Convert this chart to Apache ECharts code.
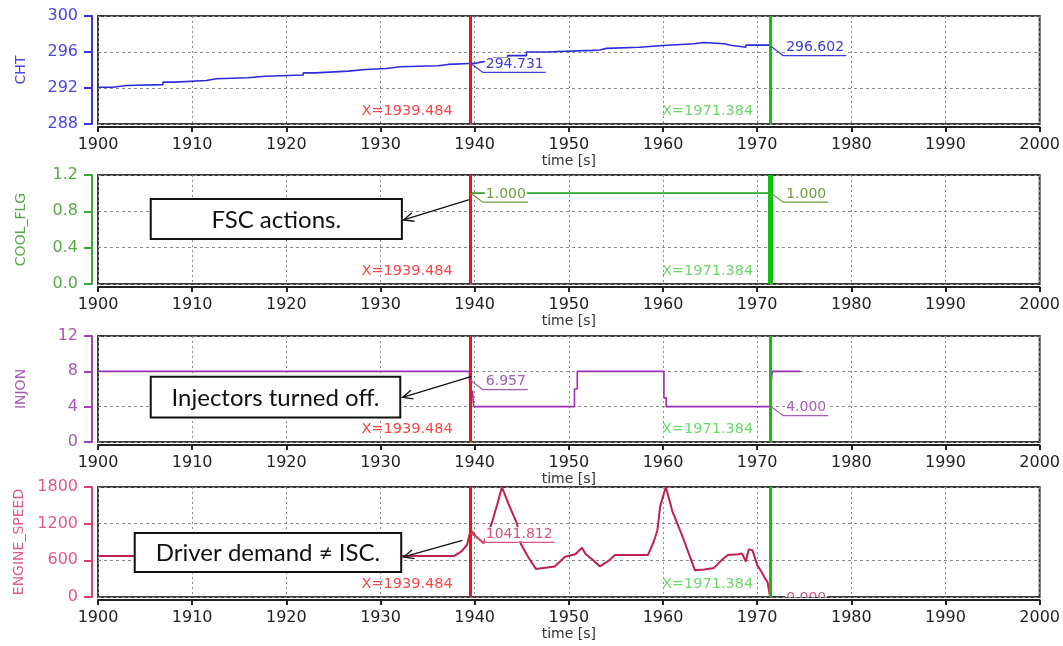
<!DOCTYPE html>
<html><head><meta charset="utf-8">
<script src="https://cdn.jsdelivr.net/npm/echarts@6/dist/echarts.min.js"></script>
<style>html,body{margin:0;padding:0;background:#fff}#c{width:1063px;height:646px}</style>
</head><body><div id="c"></div>
<script>
// ---------------- data ----------------
const chtTime  = [1900,1901.6,1903,1906.9,1908.2,1911.5,1912.6,1915.9,1917.8,1921.8,1923.1,1926.6,1928.4,1930.6,1932.1,1936.1,1937.2,1939.484,1939.9,1940.8,1942,1943.5,1945.5,1947.5,1952.5,1953.3,1954,1957.5,1960,1963.3,1964.3,1966.5,1967.2,1968.8,1971.384];
const chtValue = [292.08,292.27,292.38,292.65,292.84,293.03,293.14,293.3,293.45,293.68,293.87,294.06,294.17,294.36,294.48,294.62,294.73,294.731,294.9,295.1,295.35,295.6,296.0,296.18,296.22,296.4,296.53,296.72,296.91,297.05,296.91,296.75,296.53,296.76,296.602];
const coolTime  = [1939.484,1971.384];
const coolValue = [1,1];
const injTime  = [1900,1939.45,1939.55,1939.62,1939.7,1939.78,1939.85,1939.92,1950.6,1950.9,1960.1,1960.35,1971.45,1971.6,1974.6];
const injValue = [8,6.957,5.6,6.3,5.0,5.8,4.4,4,6,8,5,4,6.2,8,8];
const spdTime  = [1900,1937.8,1938.6,1939.2,1939.484,1939.6,1940.2,1940.95,1941.8,1942.4,1942.9,1943.6,1944.5,1944.9,1945.7,1946.5,1947.5,1948.5,1949.6,1950.7,1951.4,1951.8,1952.6,1953.3,1954.2,1954.9,1958.4,1959.0,1959.4,1959.7,1960.3,1961.0,1962.1,1963.4,1964.4,1965.4,1966.2,1966.9,1968.0,1968.4,1968.8,1969.1,1969.5,1970.0,1970.5,1970.9,1971.1,1971.3,1971.384,1971.5];
const spdValue = [669,669,748,855,1041.812,1090,980,881,1200,1519,1800,1519,1200,870,650,460,480,500,660,700,807,700,600,500,590,686,686,900,1084,1483,1800,1403,978,436,450,473,600,686,700,712,580,777,767,526,400,287,245,230,0,0];

const channelNames = ['CHT','COOL_FLG','INJON','ENGINE_SPEED'];
const yMin  = [288, 0, 0, 0];
const yMax  = [300, 1.2, 12, 1800];
const yStep = [4, 0.4, 4, 600];
const yDecimals = [0, 1, 0, 0];
const timeMin = 1900, timeMax = 2000, timeStep = 10;
const cursorTimes = [1939.484, 1971.384];
const cursorTexts = ['X=1939.484', 'X=1971.384'];
const readoutValues = [[294.731, 296.602], [1.0, 1.0], [6.957, 4.0], [1041.812, 0.0]];
const readoutTexts  = [['294.731','296.602'], ['1.000','1.000'], ['6.957','4.000'], ['1041.812','0.000']];
const noteTexts = ['FSC actions.', 'Injectors turned off.', 'Driver demand \u2260 ISC.'];

// ---------------- layout / style ----------------
const noteLayout = [
  {panel:1, box:[1905.6, 0.935, 1932.27, 0.495], from:[1939.43, 0.93], to:[1932.45, 0.705]},
  {panel:2, box:[1905.6, 7.39, 1932.1, 2.78],   from:[1939.6, 7.39],  to:[1932.35, 5.05]},
  {panel:3, box:[1903.9, 1047, 1932.2, 409],    from:[1938.7, 925],   to:[1932.45, 655]}
];
const gridPos = [{top:16,height:108},{top:175,height:109},{top:336,height:106},{top:487,height:110}];
const lineCol  = ['#2b2bd9','#2fa52f','#9c2db5','#c0204e'];
const lineW    = [1.6, 1.6, 1.6, 2];
const axisCol  = ['#3535e0','#3aa83a','#a042b5','#d8406a'];
const labelCol = ['#4646e6','#58a84a','#a35ab5','#e25a82'];
const readCol  = ['#3d3dd6','#6c9e3c','#a65cb8','#d2577a'];
const cursorCol = ['#f01414','#12c012'];
const cursorTextCol = ['#ff4545','#6ad86a'];
const stepMode = ['end', false, 'end', false];
const FONT = '"DejaVu Sans", Verdana, sans-serif';

const seriesData = [
  chtTime.map((t,i)=>[t, chtValue[i]]),
  coolTime.map((t,i)=>[t, coolValue[i]]),
  injTime.map((t,i)=>[t, injValue[i]]),
  spdTime.map((t,i)=>[t, spdValue[i]])
];

const mctx = document.createElement('canvas').getContext('2d');
function measure(text, font){ mctx.font = font; return mctx.measureText(text).width; }

function overlay(pi){
  const items = [];
  cursorTimes.forEach((t,k)=>items.push({kind:'readout', t, v:readoutValues[pi][k], text:readoutTexts[pi][k]}));
  cursorTimes.forEach((t,k)=>items.push({kind:'cursor', t, v:yMin[pi], text:cursorTexts[k], color:cursorTextCol[k]}));
  noteLayout.forEach((n,k)=>{ if(n.panel===pi) items.push({kind:'note', t:n.box[0], v:n.box[1], n, text:noteTexts[k]}); });
  return {
    type:'custom', xAxisIndex:pi, yAxisIndex:pi, z:10, clip:true, silent:true, animation:false,
    data: items.map(it=>[it.t, it.v]),
    renderItem(params, api){
      const it = items[params.dataIndex];
      const p = api.coord([api.value(0), api.value(1)]);
      if (it.kind==='readout'){
        const f = '14px ' + FONT;
        const ux = p[0]+13, uy = p[1]+9;
        const w = measure(it.text, f) + 5;
        return {type:'group', children:[
          {type:'text', style:{text:it.text, x:ux+2, y:uy-1, fill:readCol[pi], font:f, align:'left', verticalAlign:'bottom', backgroundColor:'#fff', padding:[0,1,0,1]}},
          {type:'polyline', shape:{points:[[p[0]+1,p[1]],[ux,uy],[ux+w,uy]]}, style:{stroke:readCol[pi], lineWidth:1.3, fill:null}}
        ]};
      }
      if (it.kind==='cursor'){
        return {type:'text', style:{text:it.text, x:p[0]-17, y:p[1]-13, fill:it.color, font:'14.5px '+FONT, align:'right', verticalAlign:'middle'}};
      }
      const n = it.n;
      const a = api.coord([n.box[0], n.box[1]]), c = api.coord([n.box[2], n.box[3]]);
      const fr = api.coord(n.from), to = api.coord(n.to);
      const ang = Math.atan2(fr[1]-to[1], fr[0]-to[0]);
      const h = 11, sp = 0.42;
      return {type:'group', children:[
        {type:'rect', shape:{x:a[0], y:a[1], width:c[0]-a[0], height:c[1]-a[1]}, style:{fill:'#fff', stroke:'#111', lineWidth:2}},
        {type:'text', style:{text:it.text, x:(a[0]+c[0])/2, y:(a[1]+c[1])/2+1, fill:'#111', font:'24px Lato, "Open Sans", sans-serif', align:'center', verticalAlign:'middle'}},
        {type:'polyline', shape:{points:[fr, to]}, style:{stroke:'#111', lineWidth:1.3, fill:null}},
        {type:'polyline', shape:{points:[[to[0]+h*Math.cos(ang+sp), to[1]+h*Math.sin(ang+sp)], to, [to[0]+h*Math.cos(ang-sp), to[1]+h*Math.sin(ang-sp)]]}, style:{stroke:'#111', lineWidth:1.3, fill:null}}
      ]};
    }
  };
}

const option = {
  animation:false,
  backgroundColor:'#fff',
  grid: gridPos.map(g=>({left:98, right:23, top:g.top, height:g.height, show:true, borderColor:'#3a3a3a', borderWidth:2, backgroundColor:'transparent'})),
  xAxis: gridPos.map((g,i)=>({
    type:'value', gridIndex:i, min:timeMin, max:timeMax, interval:timeStep, offset:3,
    name:'time [s]', nameLocation:'middle', nameGap:27,
    nameTextStyle:{color:'#333', fontSize:14, fontFamily:FONT},
    axisLine:{show:true, onZero:false, lineStyle:{color:'#222', width:2}},
    axisTick:{show:true, length:5, lineStyle:{color:'#222', width:2}},
    axisLabel:{color:'#222', fontSize:16, fontFamily:FONT, margin:10, formatter:v=>String(v)},
    splitLine:{show:true, lineStyle:{color:'#8a8a8a', type:[2,3], width:1}}
  })),
  yAxis: gridPos.map((g,i)=>({
    type:'value', gridIndex:i, min:yMin[i], max:yMax[i], interval:yStep[i], offset:6,
    name:channelNames[i], nameLocation:'middle', nameGap:64,
    nameTextStyle:{color:labelCol[i], fontSize:14, fontFamily:FONT},
    axisLine:{show:true, onZero:false, lineStyle:{color:axisCol[i], width:2}},
    axisTick:{show:true, length:8, lineStyle:{color:axisCol[i], width:2}},
    axisLabel:{color:labelCol[i], fontSize:16, fontFamily:FONT, margin:14, formatter:v=>v.toFixed(yDecimals[i])},
    splitLine:{show:true, lineStyle:{color:'#8a8a8a', type:[3,3], width:1}}
  })),
  series: []
};
for (let i=0;i<4;i++){
  option.series.push({
    type:'line', xAxisIndex:i, yAxisIndex:i, data:seriesData[i], step:stepMode[i],
    showSymbol:false, symbol:'none', silent:true, z:3,
    lineStyle:{color:lineCol[i], width:lineW[i]},
    markLine:{silent:true, symbol:['none','none'], label:{show:false}, animation:false,
      data: cursorTimes.map((t,k)=>({xAxis:t, lineStyle:{color:cursorCol[k], width:(i===1&&k===1)?5:3, type:'solid'}}))}
  });
  option.series.push(overlay(i));
}
const chart = echarts.init(document.getElementById('c'), null, {renderer:'canvas'});
chart.setOption(option);
</script>
</body></html>
